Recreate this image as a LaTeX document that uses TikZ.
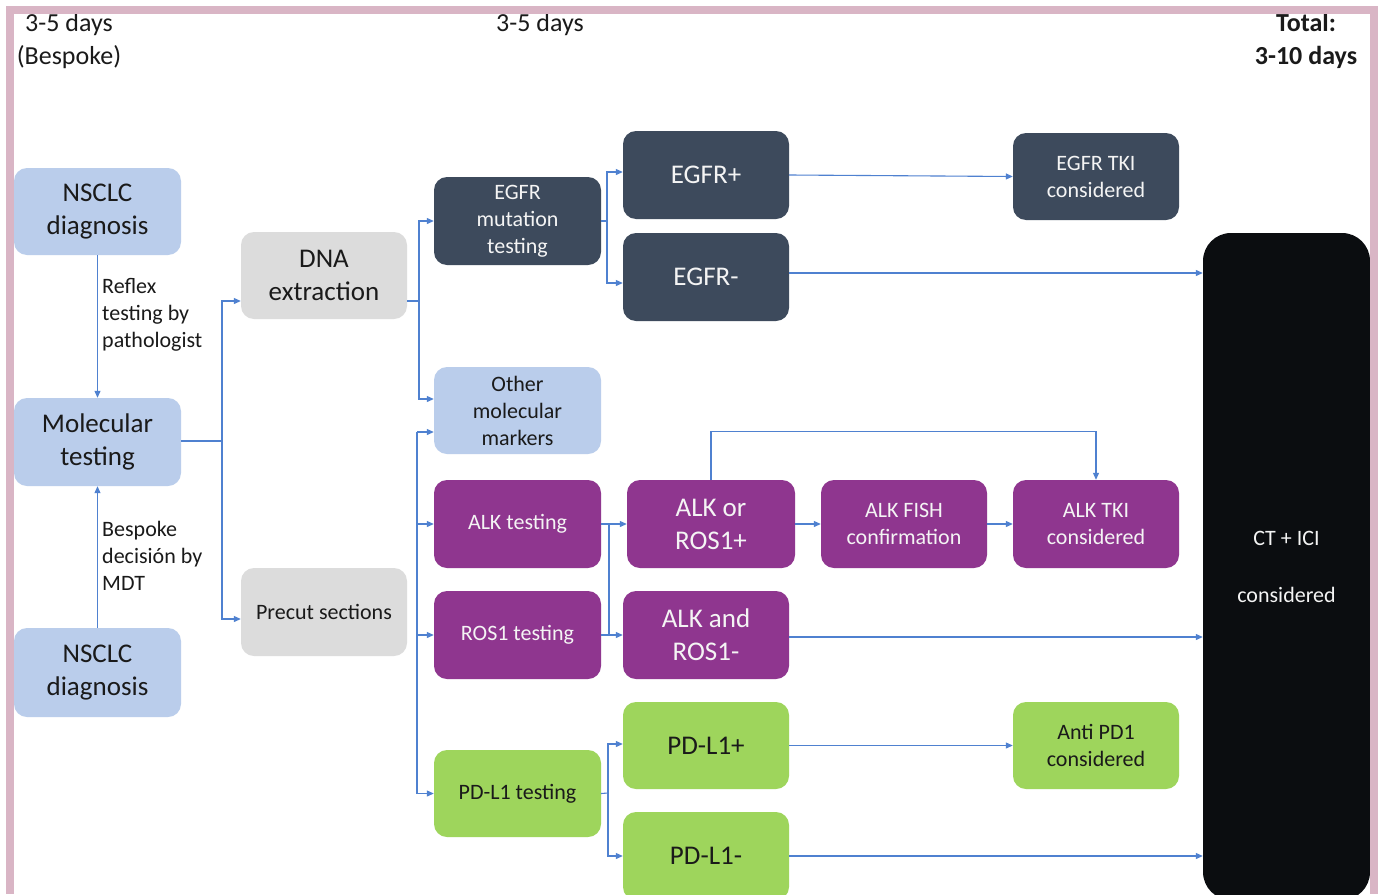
\documentclass[tikz,border=0pt]{standalone}
\usepackage{fontspec}
\setmainfont{Carlito}
\usetikzlibrary{arrows.meta}
\definecolor{lblue}{HTML}{BACDEB}
\definecolor{lgray}{HTML}{DCDCDC}
\definecolor{dslate}{HTML}{3D4A5C}
\definecolor{purp}{HTML}{8F368F}
\definecolor{lgreen}{HTML}{9ED55C}
\definecolor{ctblack}{HTML}{0B0D10}
\definecolor{conn}{HTML}{4F81D0}
\definecolor{pinkb}{HTML}{D9B5C5}
\definecolor{txtdark}{HTML}{1A1A1A}
\definecolor{txtwhite}{HTML}{F4F4F4}
\newcommand\myBig{\fontsize{27}{33}\selectfont}
\newcommand\mySmall{\fontsize{22}{27}\selectfont}
\newcommand\myHdr{\fontsize{26}{33}\selectfont}
\tikzset{
  box/.style={rounded corners=13pt, draw=none, minimum width=166pt, minimum height=88pt, inner sep=0pt, align=center},
  bigf/.style={font=\myBig},
  smallf/.style={font=\mySmall},
  bluebox/.style={box, fill=lblue, text=txtdark},
  graybox/.style={box, fill=lgray, text=txtdark},
  darkbox/.style={box, fill=dslate, text=txtwhite},
  purpbox/.style={box, fill=purp, text=txtwhite},
  greenbox/.style={box, fill=lgreen, text=txtdark},
  line/.style={draw=conn, line width=1.1pt},
  arr/.style={line, -{Triangle[length=7pt,width=6pt]}},
  lab/.style={font=\mySmall, text=txtdark, align=left, inner sep=0pt, anchor=west},
  hdr/.style={font=\myHdr, text=txtdark, align=center, inner sep=0pt}
}
\begin{document}
\begin{tikzpicture}[x=1pt,y=-1pt]
\useasboundingbox (0,0) rectangle (1378,894);
\clip (0,0) rectangle (1378,894);
\fill[white] (0,0) rectangle (1378,894);

% headers
\node[hdr] (h1) at (69,41) {3-5 days\\(Bespoke)};
\node[hdr] (h2) at (540,25) {3-5 days};
\node[hdr, font=\myHdr\bfseries] (h3) at (1306,41) {Total:\\3-10 days};

% left column
\node[bluebox, bigf, minimum width=167pt, minimum height=87pt] (nscA) at (97.5,211.5) {NSCLC\\diagnosis};
\node[bluebox, bigf, minimum width=167pt] (mol) at (97.5,442) {Molecular\\testing};
\node[bluebox, bigf, minimum width=167pt, minimum height=89pt] (nscB) at (97.5,672.5) {NSCLC\\diagnosis};

\node[graybox, bigf, minimum height=87pt] (dna) at (324,275.5) {DNA\\extraction};
\node[graybox, smallf] (precut) at (324,612) {Precut sections};

% testing column
\node[darkbox, smallf, minimum width=167pt] (egfrm) at (517.5,221) {EGFR\\mutation\\testing};
\node[bluebox, smallf, minimum width=167pt, minimum height=87pt] (other) at (517.5,410.5) {Other\\molecular\\markers};
\node[purpbox, smallf, minimum width=167pt] (alkt) at (517.5,524) {ALK testing};
\node[purpbox, smallf, minimum width=167pt] (rost) at (517.5,635) {ROS1 testing};
\node[greenbox, smallf, minimum width=167pt, minimum height=87pt] (pdt) at (517.5,793.5) {PD-L1 testing};

% results column
\node[darkbox, bigf] (egfrp) at (706,175) {EGFR+};
\node[darkbox, bigf] (egfrn) at (706,277) {EGFR-};
\node[purpbox, bigf, minimum width=168pt] (alkp) at (711,524) {ALK or\\ROS1+};
\node[purpbox, bigf] (alkn) at (706,635) {ALK and\\ROS1-};
\node[greenbox, bigf, minimum height=87pt] (pdp) at (706,745.5) {PD-L1+};
\node[greenbox, bigf] (pdn) at (706,856) {PD-L1-};

\node[purpbox, smallf] (fish) at (904,524) {ALK FISH\\confirmation};

% treatment column
\node[darkbox, smallf, minimum height=87pt] (egfrtki) at (1096,176.5) {EGFR TKI\\considered};
\node[purpbox, smallf] (alktki) at (1096,524) {ALK TKI\\considered};
\node[greenbox, smallf, minimum height=87pt] (anti) at (1096,745.5) {Anti PD1\\considered};
\node[box, fill=ctblack, text=txtwhite, smallf, rounded corners=28pt, minimum width=167pt, minimum height=667pt] (ct) at (1286.5,566.5) {CT + ICI\\[30pt]considered};

% labels
\node[lab] (lblA) at (102,315) {Reflex\\testing by\\pathologist};
\node[lab] (lblB) at (102,556) {Bespoke\\decisión by\\MDT};

% coordinates for junctions
\coordinate (j1) at (222,441);
\coordinate (j2) at (419,301);
\coordinate (j3) at (417,432);
\coordinate (j4) at (607,221);
\coordinate (j6) at (608,793);
\coordinate (b1) at (609,523);
\coordinate (b2) at (609,636);

% connectors
\draw[arr] (nscA.south) -- (mol.north);
\draw[arr] (nscB.north) -- (mol.south);

\draw[line] (mol.east |- j1) -- (j1);
\draw[arr] (j1) |- ([yshift=-25.5pt]dna.west);
\draw[arr] (j1) |- ([yshift=-7pt]precut.west);

\draw[line] ([yshift=-25.5pt]dna.east) -- (j2);
\draw[arr] (j2) |- (egfrm.west);
\draw[arr] (j2) |- ([yshift=11.5pt]other.west);

\draw[arr] (j3) -- (other.west |- j3);
\draw[arr] (j3) |- (alkt.west);
\draw[arr] (j3) |- (rost.west);
\draw[arr] (j3) |- (pdt.west);

\draw[line] (egfrm.east) -- (j4);
\draw[arr] (j4) |- ([yshift=3pt]egfrp.west);
\draw[arr] (j4) |- ([yshift=-6pt]egfrn.west);

\draw[arr] (egfrp.east) -- (egfrtki.west);
\draw[arr] ([yshift=4pt]egfrn.east) -- ([yshift=4pt]egfrn.east -| ct.west);

\draw[arr] (alkt.east) -- (alkp.west);
\draw[arr] (rost.east) -- (alkn.west);
\draw[line] (b1) -- (b2);
\draw[arr] (alkp.east) -- (fish.west);
\draw[arr] (fish.east) -- (alktki.west);
\draw[arr] (alkp.north) -- ++(0,-48) -| (alktki.north);
\draw[arr] ([yshift=-2pt]alkn.east) -- ([yshift=-2pt]alkn.east -| ct.west);

\draw[line] (pdt.east) -- (j6);
\draw[arr] (j6) |- ([yshift=1.5pt]pdp.west);
\draw[arr] (j6) |- (pdn.west);
\draw[arr] (pdp.east) -- (anti.west);
\draw[arr] (pdn.east) -- (ct.west |- pdn.east);

% pink frame
\fill[pinkb] (6,6) rectangle (1378,14);
\fill[pinkb] (6,6) rectangle (14,894);
\fill[pinkb] (1370,6) rectangle (1378,894);
\end{tikzpicture}
\end{document}
